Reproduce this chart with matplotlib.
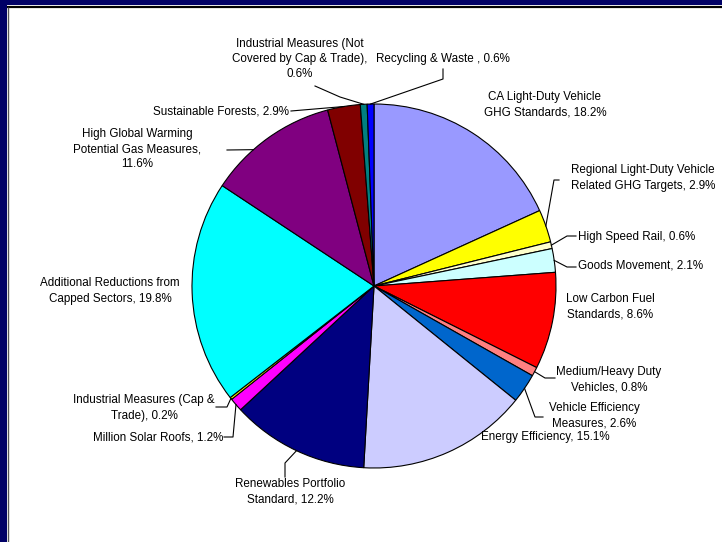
import numpy as np
import matplotlib
matplotlib.use('Agg')
import matplotlib.pyplot as plt
from matplotlib.patches import Rectangle

plt.rcParams['font.family'] = ['Liberation Sans', 'DejaVu Sans']

# data: share of reductions by measure (%), clockwise from 12 o'clock
labels = [
    'CA Light-Duty Vehicle\nGHG Standards, 18.2%',
    'Regional Light-Duty Vehicle\nRelated GHG Targets, 2.9%',
    'High Speed Rail, 0.6%',
    'Goods Movement, 2.1%',
    'Low Carbon Fuel\nStandards, 8.6%',
    'Medium/Heavy Duty\nVehicles, 0.8%',
    'Vehicle Efficiency\nMeasures, 2.6%',
    'Energy Efficiency, 15.1%',
    'Renewables Portfolio\nStandard, 12.2%',
    'Million Solar Roofs, 1.2%',
    'Industrial Measures (Cap &\nTrade), 0.2%',
    'Additional Reductions from\nCapped Sectors, 19.8%',
    'High Global Warming\nPotential Gas Measures,\n11.6%',
    'Sustainable Forests, 2.9%',
    'Industrial Measures (Not\nCovered by Cap & Trade),\n0.6%',
    'Recycling & Waste , 0.6%',
]
shares = [18.2, 2.9, 0.6, 2.1, 8.6, 0.8, 2.6, 15.1, 12.2, 1.2, 0.2, 19.8, 11.6, 2.9, 0.6, 0.6]
colors = ['#9999FF', '#FFFF00', '#FFFFCC', '#CCFFFF', '#FF0000', '#FF8080', '#0066CC', '#CCCCFF',
          '#000080', '#FF00FF', '#FFFF00', '#00FFFF', '#800080', '#800000', '#008080', '#0000FF']
explode = [0, 0.045] + [0] * 14

# layout in pixels (y down): text position, alignment, leader points after the wedge edge,
# and where on the wedge (0..1 of its arc) the leader starts
W, H = 722, 542
CX, CY, R = 374, 286, 182
label_pos = [
    (545, 105, 'center', [], 0.5),
    (643, 178, 'center', [(554, 180), (559, 180)], 0.5),
    (578, 237, 'left', [(567, 236), (576, 236)], 0.5),
    (578, 266, 'left', [(567, 267), (576, 267)], 0.5),
    (610, 307, 'center', [], 0.5),
    (609, 380, 'center', [(545, 378), (555, 378)], 0.5),
    (594, 416, 'center', [(535, 417), (543, 417)], 0.5),
    (545, 437, 'center', [], 0.5),
    (290, 492, 'center', [(285, 463), (285, 477)], 0.5),
    (223, 437, 'right', [(233, 437), (224, 437)], 0.5),
    (144, 408, 'center', [(227, 407), (216, 407)], 0.5),
    (110, 291, 'center', [], 0.5),
    (137, 149, 'center', [(227, 150)], 0.36),
    (221, 111, 'center', [(291, 111)], 0.5),
    (300, 59, 'center', [(340, 97), (315, 86)], 0.5),
    (443, 59, 'center', [(443, 79), (443, 69)], 0.5),
]


def Y(y):
    return H - y


fig = plt.figure(figsize=(W / 100, H / 100), dpi=100)
ax = fig.add_axes([0, 0, 1, 1])

wedges, _ = ax.pie(shares, colors=colors, explode=explode, startangle=90, counterclock=False,
                   center=(CX, Y(CY)), radius=R,
                   wedgeprops=dict(edgecolor='black', linewidth=0.8))

ax.set_xlim(0, W)
ax.set_ylim(0, H)
ax.set_aspect('auto')
ax.axis('off')

# labels + leader lines
for w, lab, (tx, ty, ha, pts, frac) in zip(wedges, labels, label_pos):
    if pts:
        ang = np.deg2rad(w.theta2 - frac * (w.theta2 - w.theta1))
        cx, cy = w.center
        sx, sy = cx + w.r * np.cos(ang), cy + w.r * np.sin(ang)
        xs = [sx] + [p[0] for p in pts]
        ys = [sy] + [Y(p[1]) for p in pts]
        ax.plot(xs, ys, color='black', linewidth=0.8, zorder=3)
    ax.text(tx, Y(ty), lab, ha=ha, va='center', fontsize=8.4, linespacing=1.35,
            multialignment='center', color='black')

# slide frame: navy band top and left, thin rules
ax.add_patch(Rectangle((0, Y(5)), W, 5, facecolor='#000066', edgecolor='none', clip_on=False))
ax.add_patch(Rectangle((0, 0), 7, H, facecolor='#000066', edgecolor='none', clip_on=False))
ax.plot([7, W], [Y(7), Y(7)], color='black', linewidth=1.6, solid_capstyle='butt')
ax.plot([7.5, 7.5], [0, Y(7)], color='#555555', linewidth=1.0, solid_capstyle='butt')

fig.savefig('out.png', dpi=100)
